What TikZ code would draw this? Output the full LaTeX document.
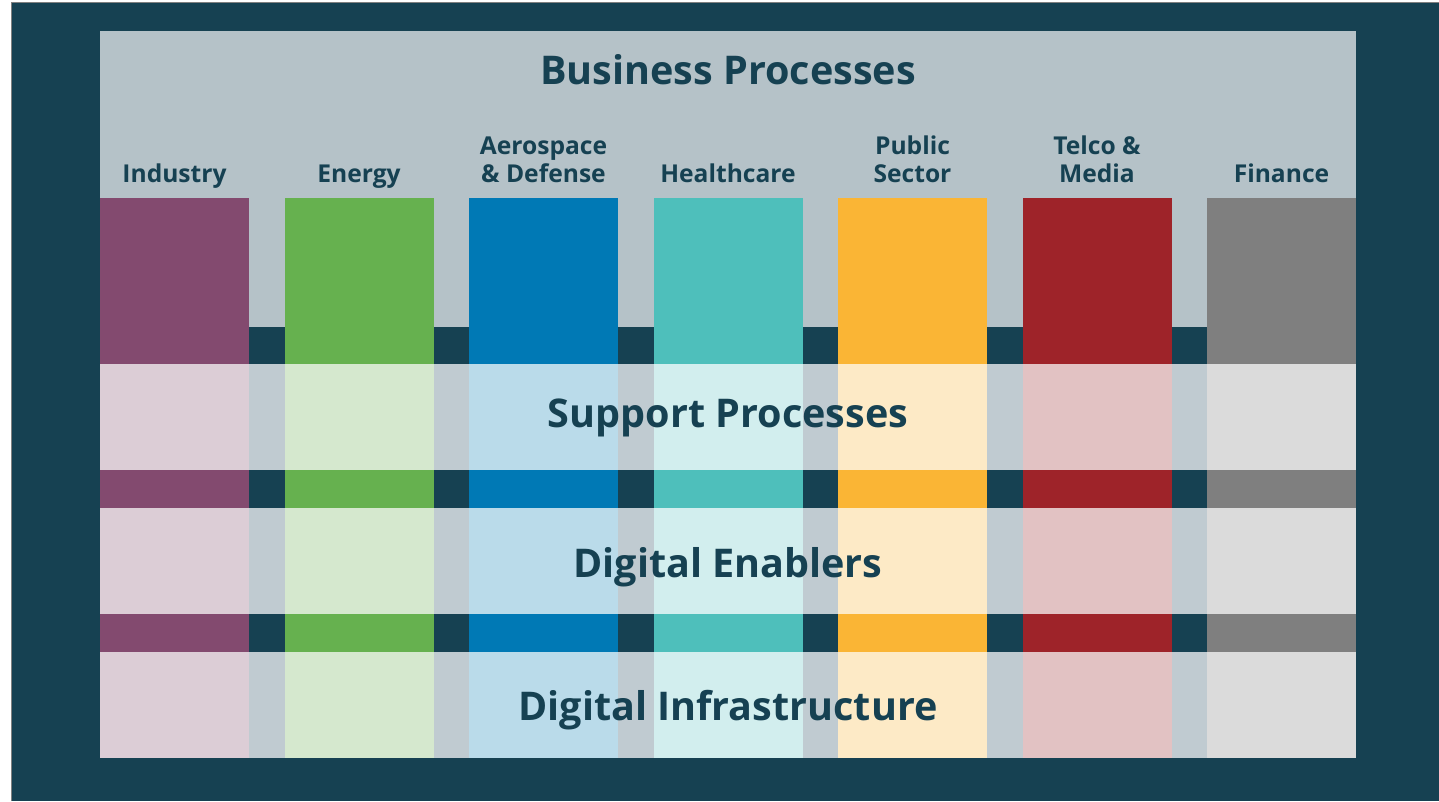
\documentclass[tikz,border=0pt]{standalone}
\usepackage{fontspec}
\setmainfont{Open Sans}

\definecolor{deepteal}{HTML}{164152}
\definecolor{panelgray}{HTML}{B5C2C8}
\definecolor{gapgray}{HTML}{C0CBD1}
\definecolor{industry}{HTML}{834A6F}
\definecolor{industry-light}{HTML}{DCCDD6}
\definecolor{energy}{HTML}{66B14F}
\definecolor{energy-light}{HTML}{D5E8CE}
\definecolor{aerospace}{HTML}{0079B5}
\definecolor{aerospace-light}{HTML}{BADBEA}
\definecolor{healthcare}{HTML}{4EBFBB}
\definecolor{healthcare-light}{HTML}{D2EEEE}
\definecolor{public}{HTML}{FAB535}
\definecolor{public-light}{HTML}{FDEAC6}
\definecolor{telco}{HTML}{9E2329}
\definecolor{telco-light}{HTML}{E2C2C3}
\definecolor{finance}{HTML}{7F7F7F}
\definecolor{finance-light}{HTML}{DBDBDB}

\begin{document}
\begin{tikzpicture}[x=0.02cm, y=-0.02cm]
	\tikzstyle{layer}=[text=deepteal, anchor=base, inner sep=0pt, font=\fontsize{22.5}{27}\selectfont\bfseries]
	\tikzstyle{sector}=[text=deepteal, anchor=south, inner sep=0pt, text depth=0pt, align=center, font=\fontsize{14}{15.7}\selectfont\bfseries]
	\useasboundingbox (0,0) rectangle (1439,801);
	\fill[white] (0,0) rectangle (1439,801);
	\fill[deepteal] (12,3) rectangle (1439,801);
	\draw[gray, line width=0.6pt] (11.5,801) -- (11.5,2.5) -- (1439,2.5);
	
	\fill[panelgray] (100,31) rectangle (1356,758);
	\fill[gapgray] (100,364) rectangle (1356,758);
	
	% dark strips between the columns
	\fill[deepteal] (100,327) rectangle (1356,364);
	\fill[deepteal] (100,470) rectangle (1356,508);
	\fill[deepteal] (100,614) rectangle (1356,652);
	
	\foreach \name/\label [count=\i from 0] in {industry/Industry, energy/Energy, aerospace/{Aerospace\\\& Defense}, healthcare/Healthcare, public/{Public\\Sector}, telco/{Telco \&\\Media}, finance/Finance}{
		\pgfmathsetmacro\xl{100+184.5*\i}
		\fill[\name] (\xl,198) rectangle ++(149,166);
		\fill[\name-light] (\xl,364) rectangle ++(149,106);
		\fill[\name] (\xl,470) rectangle ++(149,38);
		\fill[\name-light] (\xl,508) rectangle ++(149,106);
		\fill[\name] (\xl,614) rectangle ++(149,38);
		\fill[\name-light] (\xl,652) rectangle ++(149,106);
		\node[sector] (label-\name) at (\xl+74.5,182.5) {\label};
	}
	
	\node[layer] (business) at (728,84) {Business Processes};
	\node[layer] (support) at (728,427.5) {Support Processes};
	\node[layer] (enablers) at (728,577) {Digital Enablers};
	\node[layer] (infrastructure) at (728,720.5) {Digital Infrastructure};
\end{tikzpicture}
\end{document}
